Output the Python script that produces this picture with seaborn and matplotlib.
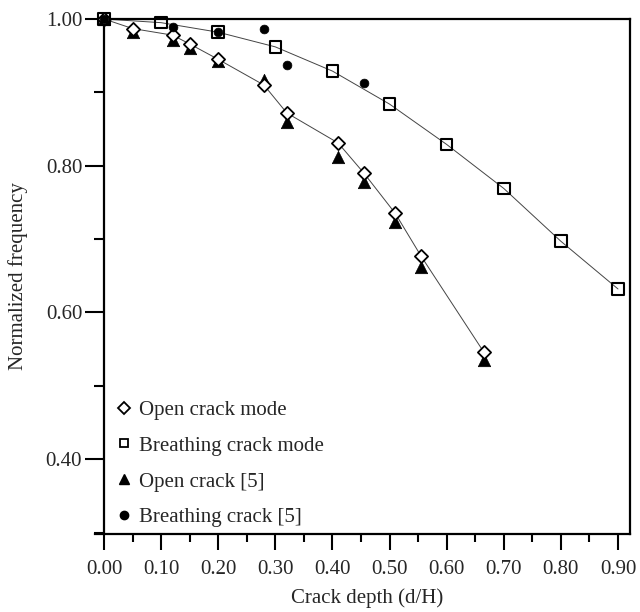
import matplotlib
matplotlib.use("Agg")
import matplotlib.pyplot as plt
import seaborn as sns
import pandas as pd
from matplotlib.ticker import MultipleLocator
from matplotlib.lines import Line2D

sns.set_theme(style="ticks")
plt.rcParams['font.family'] = ['Liberation Serif', 'DejaVu Serif']

# Data
open_model_x = [0.00, 0.05, 0.12, 0.15, 0.20, 0.28, 0.32, 0.41, 0.455, 0.51, 0.555, 0.665]
open_model_y = [1.000, 0.987, 0.978, 0.966, 0.945, 0.910, 0.872, 0.831, 0.790, 0.735, 0.677, 0.546]

breath_model_x = [0.00, 0.10, 0.20, 0.30, 0.40, 0.50, 0.60, 0.70, 0.80, 0.90]
breath_model_y = [1.000, 0.995, 0.982, 0.962, 0.929, 0.884, 0.829, 0.769, 0.697, 0.632]

open_ref_x = [0.00, 0.05, 0.12, 0.15, 0.20, 0.28, 0.32, 0.41, 0.455, 0.51, 0.555, 0.665]
open_ref_y = [1.000, 0.982, 0.972, 0.960, 0.943, 0.917, 0.860, 0.812, 0.778, 0.723, 0.662, 0.535]

breath_ref_x = [0.00, 0.12, 0.20, 0.28, 0.32, 0.455]
breath_ref_y = [1.000, 0.989, 0.982, 0.986, 0.937, 0.913]

labels = ["Open crack mode", "Breathing crack mode", "Open crack [5]", "Breathing crack [5]"]
x_ticks = [0.00, 0.10, 0.20, 0.30, 0.40, 0.50, 0.60, 0.70, 0.80, 0.90]
y_ticks = [0.40, 0.60, 0.80, 1.00]

fig = plt.figure(figsize=(6.4, 6.12), dpi=100)
ax = fig.add_axes([104/640, 1-534/612, (630-104)/640, (534-19)/612])

df_om = pd.DataFrame({"x": open_model_x, "y": open_model_y})
df_bm = pd.DataFrame({"x": breath_model_x, "y": breath_model_y})
df_or = pd.DataFrame({"x": open_ref_x, "y": open_ref_y})
df_br = pd.DataFrame({"x": breath_ref_x, "y": breath_ref_y})

# fitted curves
sns.lineplot(data=df_om, x="x", y="y", ax=ax, color="#444444", lw=0.7, sort=True)
sns.lineplot(data=df_bm, x="x", y="y", ax=ax, color="#444444", lw=0.7, sort=True)

sns.scatterplot(data=df_or, x="x", y="y", ax=ax, marker="^", s=80, color="black",
                edgecolor="black", linewidth=0.5, clip_on=False, zorder=3)
sns.scatterplot(data=df_om, x="x", y="y", ax=ax, marker="D", s=45, facecolor="white",
                edgecolor="black", linewidth=1.3, clip_on=False, zorder=4)
sns.scatterplot(data=df_bm, x="x", y="y", ax=ax, marker="s", s=70, facecolor="none",
                edgecolor="black", linewidth=1.5, clip_on=False, zorder=4)
sns.scatterplot(data=df_br, x="x", y="y", ax=ax, marker="o", s=40, color="black",
                edgecolor="black", linewidth=0.5, clip_on=False, zorder=5)

ax.set_xlim(0, 0.921)
ax.set_ylim(0.298, 1.0)
ax.set_xticks(x_ticks)
ax.set_xticklabels([f"{v:.2f}" for v in x_ticks])
ax.set_yticks(y_ticks)
ax.set_yticklabels([f"{v:.2f}" for v in y_ticks])
ax.xaxis.set_minor_locator(MultipleLocator(0.05))
ax.yaxis.set_minor_locator(MultipleLocator(0.10))
ax.tick_params(axis="x", which="major", length=11.5, width=1.5, labelsize=15, pad=7, direction="out", color="black")
ax.tick_params(axis="x", which="minor", length=5.8, width=1.5, direction="out", color="black")
ax.tick_params(axis="y", which="major", length=13.7, width=1.5, labelsize=15, pad=2, direction="out", color="black")
ax.tick_params(axis="y", which="minor", length=7, width=1.5, direction="out", color="black")
for sp in ax.spines.values():
    sp.set_linewidth(1.6)
    sp.set_color("black")
    sp.set_visible(True)
ax.spines["bottom"].set_bounds(-0.016, 0.921)

ax.set_xlabel("Crack depth (d/H)", fontsize=15, labelpad=7)
ax.set_ylabel("Normalized frequency", fontsize=15, labelpad=13)

handles = [
    Line2D([], [], ls="none", marker="D", ms=6.5, mfc="white", mec="black", mew=1.3),
    Line2D([], [], ls="none", marker="s", ms=5.5, mfc="none", mec="black", mew=1.3),
    Line2D([], [], ls="none", marker="^", ms=7.5, mfc="black", mec="black"),
    Line2D([], [], ls="none", marker="o", ms=6, mfc="black", mec="black"),
]
ax.legend(handles, labels, loc="lower left", frameon=False, fontsize=15,
          handletextpad=0.1, labelspacing=0.78, handlelength=1.2,
          borderaxespad=0.3, bbox_to_anchor=(-0.0133, -0.0155))

fig.savefig("out.png", dpi=100)
